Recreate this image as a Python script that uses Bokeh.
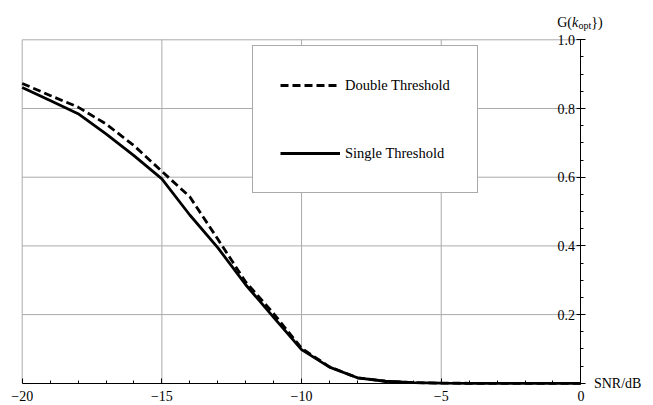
from bokeh.plotting import figure
from bokeh.models import (ColumnDataSource, FixedTicker, Legend, LegendItem, Range1d)
from bokeh.core.properties import value
from bokeh.embed import file_html
from bokeh.resources import INLINE

# ---- data ----
snr = [-20, -19, -18, -17, -16, -15, -14, -13, -12, -11, -10,
       -9, -8, -7, -6, -5, -4, -3, -2, -1, 0]
single_thr = [0.861, 0.823, 0.785, 0.726, 0.663, 0.595, 0.490, 0.395, 0.287, 0.192, 0.098,
              0.047, 0.016, 0.006, 0.002, 0.0005, 0.0, 0.0, 0.0, 0.0, 0.0]
double_thr = [0.873, 0.838, 0.804, 0.755, 0.692, 0.617, 0.543, 0.420, 0.295, 0.203, 0.102,
              0.048, 0.016, 0.006, 0.002, 0.0005, 0.0, 0.0, 0.0, 0.0, 0.0]

x_ticks = [-20, -15, -10, -5, 0]
x_tick_labels = ["\u221220", "\u221215", "\u221210", "\u22125", "0"]
x_minor = [v for v in range(-20, 1) if v not in x_ticks]
y_ticks = [0.0, 0.2, 0.4, 0.6, 0.8, 1.0]
y_tick_labels = ["", "0.2", "0.4", "0.6", "0.8", "1.0"]
y_minor = [round(0.05 * i, 2) for i in range(21) if i % 4 != 0]
x_lim = (-20, 0)
y_lim = (0.0, 1.0)

FONT = "Liberation Serif"

# ---- canvas geometry (pixels) ----
W, H = 653, 405
px_left, px_right = 21.7, 580.4     # screen x of x_lim
py_bottom, py_top = 382.8, 39.3     # screen y of y_lim
sx = (px_right - px_left) / (x_lim[1] - x_lim[0])
sy = (py_bottom - py_top) / (y_lim[1] - y_lim[0])
xr = Range1d(x_lim[0] - px_left / sx, x_lim[1] + (W - px_right) / sx)
yr = Range1d(y_lim[0] - (H - py_bottom) / sy, y_lim[1] + py_top / sy)

p = figure(width=W, height=H, x_range=xr, y_range=yr,
           x_axis_location="below", y_axis_location="left",
           min_border=0, min_border_left=0, min_border_right=0,
           min_border_top=0, min_border_bottom=0,
           output_backend="svg", toolbar_location=None,
           background_fill_color="white", border_fill_color="white")
p.outline_line_color = None
p.grid.visible = False

# grid lines (inside the plot box only)
gx = [t for t in x_ticks if t != x_lim[1]]
gy = [t for t in y_ticks if t != y_lim[0]]
p.segment(x0=gx, y0=[y_lim[0]] * len(gx), x1=gx, y1=[y_lim[1]] * len(gx),
          line_color="#ababab", line_width=1)
p.segment(x0=[x_lim[0]] * len(gy), y0=gy, x1=[x_lim[1]] * len(gy), y1=gy,
          line_color="#ababab", line_width=1)

# x axis at y = 0
xa = p.xaxis[0]
xa.fixed_location = 0
xa.bounds = x_lim
xa.ticker = FixedTicker(ticks=x_ticks, minor_ticks=x_minor)
xa.major_label_overrides = dict(zip(x_ticks, x_tick_labels))
xa.major_tick_in = 5
xa.major_tick_out = 0
xa.minor_tick_in = 3
xa.minor_tick_out = 0
xa.axis_line_color = "black"
xa.major_tick_line_color = "black"
xa.minor_tick_line_color = "black"
xa.major_label_text_font = FONT
xa.major_label_text_font_size = "14px"
xa.major_label_text_color = "black"
xa.major_label_standoff = 8

# y axis at x = 0, labels on its left, ticks pointing right
ya = p.yaxis[0]
ya.fixed_location = 0
ya.bounds = y_lim
ya.ticker = FixedTicker(ticks=y_ticks, minor_ticks=y_minor)
ya.major_label_overrides = dict(zip(y_ticks, y_tick_labels))
ya.major_tick_in = 5
ya.major_tick_out = 4
ya.minor_tick_in = 3
ya.minor_tick_out = 0
ya.axis_line_color = "black"
ya.major_tick_line_color = "black"
ya.minor_tick_line_color = "black"
ya.major_label_text_font = FONT
ya.major_label_text_font_size = "14px"
ya.major_label_text_color = "black"
ya.major_label_standoff = 2

# curves
src = ColumnDataSource(dict(x=snr, s=single_thr, d=double_thr))
r_d = p.line("x", "d", source=src, line_color="black", line_width=2.8, line_dash="8 4")
r_s = p.line("x", "s", source=src, line_color="black", line_width=2.8)

legend = Legend(items=[LegendItem(label="Double Threshold", renderers=[r_d]),
                       LegendItem(label="Single Threshold", renderers=[r_s])],
                location=(252, H - 193), orientation="vertical",
                glyph_width=60, glyph_height=24, label_height=24, label_standoff=5,
                spacing=44, padding=27, margin=0,
                label_text_font=FONT, label_text_font_size="14.5px", label_text_color="black",
                border_line_color="#555555", border_line_width=1.3,
                background_fill_color="white", background_fill_alpha=1.0)
p.add_layout(legend)

# axis titles as text glyphs anchored at the axis ends
p.text(x=[x_lim[1]], y=[y_lim[0]], text=["SNR/dB"], x_offset=13,
       text_align="left", text_baseline="middle",
       text_font=value(FONT), text_font_size="14px", text_color="black")
ttl = ColumnDataSource(dict(x=[x_lim[1]] * 4, y=[y_lim[1]] * 4,
                            t=["G(", "k", "opt", "})"],
                            xo=[-23.7, -8.9, -2.3, 10.3],
                            yo=[-17, -17, -14, -17],
                            fs=["14px", "14px", "10px", "14px"],
                            st=["normal", "italic", "normal", "normal"]))
p.text(x="x", y="y", text="t", x_offset="xo", y_offset="yo", source=ttl,
       text_font_size="fs", text_font_style="st",
       text_align="left", text_baseline="alphabetic",
       text_font=value(FONT), text_color="black")

open("out.html", "w").write(file_html(p, INLINE))
